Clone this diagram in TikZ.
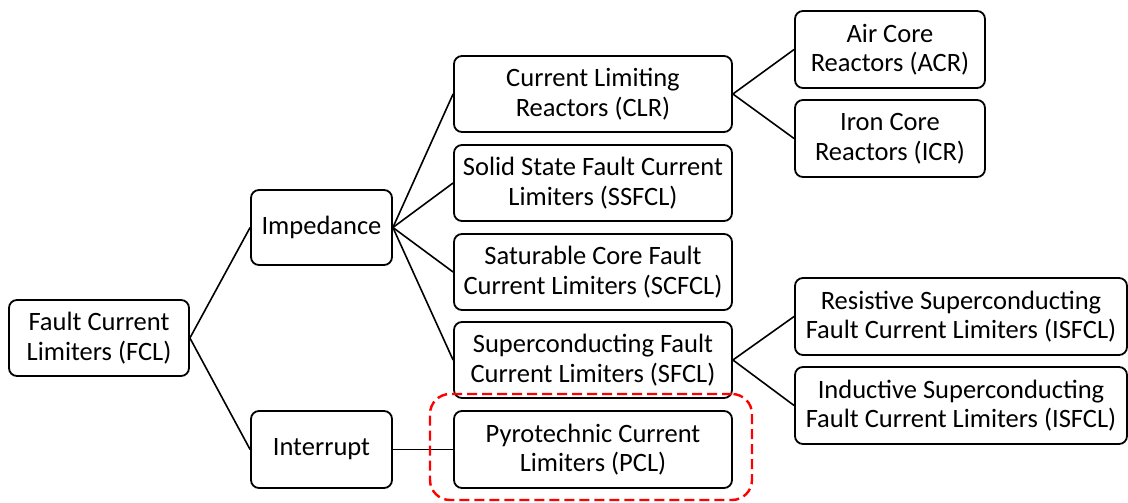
\documentclass[tikz,border=0pt]{standalone}
\usepackage{fontspec}
\setmainfont{Carlito}
\begin{document}
\begin{tikzpicture}[x=1pt,y=-1pt,
  box/.style={draw=black, line width=1.8pt, rounded corners=8pt, align=center, inner sep=0pt,
    font=\fontsize{26.5}{29.5}\selectfont, text=black},
  conn/.style={line width=1.6pt, black}]
\useasboundingbox (0,0) rectangle (1128,503);
\node[box, minimum width=180pt, minimum height=76pt] (fcl) at (99,338) {Fault Current\\Limiters (FCL)};
\node[box, minimum width=141pt, minimum height=75pt] (imp) at (321.5,227.5) {Impedance};
\node[box, minimum width=141pt, minimum height=77pt] (int) at (321.5,449.5) {Interrupt};
\node[box, minimum width=278pt, minimum height=76pt] (clr) at (593,94) {Current Limiting\\Reactors (CLR)};
\node[box, minimum width=278pt, minimum height=76pt] (ssfcl) at (593,183) {Solid State Fault Current\\Limiters (SSFCL)};
\node[box, minimum width=278pt, minimum height=76pt] (scfcl) at (593,272) {Saturable Core Fault\\Current Limiters (SCFCL)};
\node[box, minimum width=278pt, minimum height=76pt] (sfcl) at (593,360) {Superconducting Fault\\Current Limiters (SFCL)};
\node[box, minimum width=278pt, minimum height=77pt] (pcl) at (593,449.5) {Pyrotechnic Current\\Limiters (PCL)};
\node[box, minimum width=190pt, minimum height=77pt] (acr) at (890,49.5) {Air Core\\Reactors (ACR)};
\node[box, minimum width=190pt, minimum height=77pt] (icr) at (890,138.5) {Iron Core\\Reactors (ICR)};
\node[box, minimum width=332pt, minimum height=77pt] (rsf) at (961,316.5) {Resistive Superconducting\\Fault Current Limiters (ISFCL)};
\node[box, minimum width=332pt, minimum height=77pt] (isf) at (961,405.5) {Inductive Superconducting\\Fault Current Limiters (ISFCL)};
\draw[conn] (fcl.east) -- (imp.west);
\draw[conn] (fcl.east) -- (int.west);
\draw[conn] (imp.east) -- (clr.west);
\draw[conn] (imp.east) -- (ssfcl.west);
\draw[conn] (imp.east) -- (scfcl.west);
\draw[conn] (imp.east) -- (sfcl.west);
\draw[conn] (int.east) -- (pcl.west);
\draw[conn] (clr.east) -- (acr.west);
\draw[conn] (clr.east) -- (icr.west);
\draw[conn] (sfcl.east) -- (rsf.west);
\draw[conn] (sfcl.east) -- (isf.west);
\node[draw=red, line width=2.4pt, dash pattern=on 10pt off 5pt, rounded corners=20pt,
  minimum width=322pt, minimum height=106pt, inner sep=0pt] (hl) at (591,447) {};
\end{tikzpicture}
\end{document}
